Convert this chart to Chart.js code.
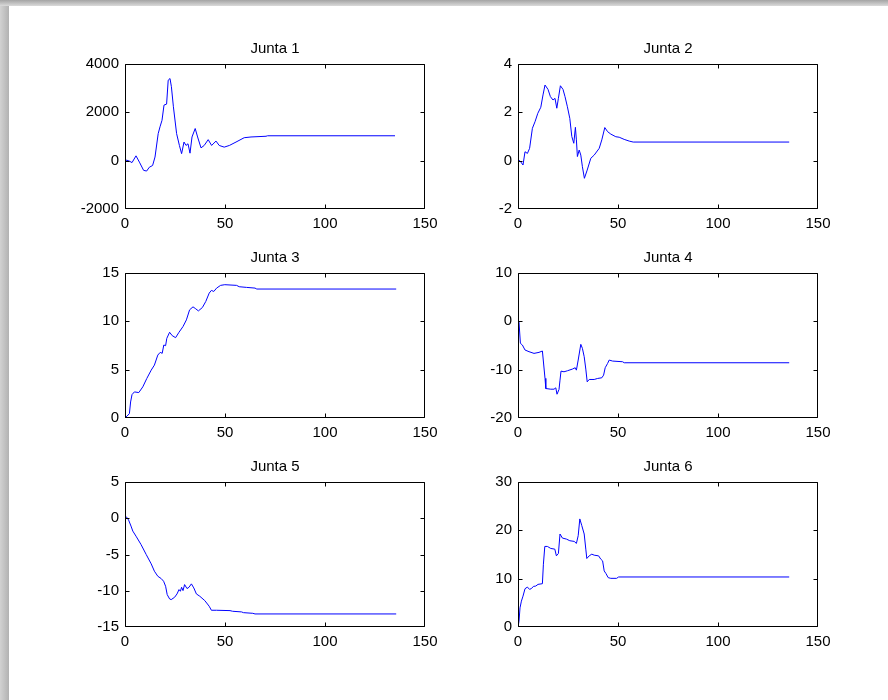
<!DOCTYPE html>
<html>
<head>
<meta charset="utf-8">
<title>Juntas</title>
<script src="https://cdn.jsdelivr.net/npm/chart.js@4/dist/chart.umd.min.js"></script>
<style>
  html, body { margin: 0; padding: 0; background: #fff; }
  body { width: 888px; height: 700px; position: relative; overflow: hidden; }
  .shade-top  { position: absolute; left: 0; top: 0; width: 888px; height: 6px;
                background: linear-gradient(to bottom, #a4a4a4, #dadada); }
  .shade-left { position: absolute; left: 0; top: 0; width: 9px; height: 700px;
                background: linear-gradient(to right, #d2d2d2, #b2b2b2); }
  .plot { position: absolute; width: 380px; height: 205px; }
</style>
</head>
<body>
<div class="shade-left"></div>
<div class="shade-top"></div>

<div class="plot" style="left:65px; top:34px"><canvas id="j1"></canvas></div>
<div class="plot" style="left:458px; top:34px"><canvas id="j2"></canvas></div>
<div class="plot" style="left:65px; top:243px"><canvas id="j3"></canvas></div>
<div class="plot" style="left:458px; top:243px"><canvas id="j4"></canvas></div>
<div class="plot" style="left:65px; top:452px"><canvas id="j5"></canvas></div>
<div class="plot" style="left:458px; top:452px"><canvas id="j6"></canvas></div>

<script>
/* ---- dados ---- */
const xTicks = [0, 50, 100, 150];

const j1Ticks = [-2000, 0, 2000, 4000];
const j1X = [0, 1.8, 3.5, 5.5, 7.2, 9.3, 10.8, 12.2, 13.8, 15, 16.6, 17.5, 18.5, 19.5, 20.8, 21.6, 22.5, 23.2, 24.2, 25.8, 27.2, 28.3, 29.5, 30.5, 31.5, 32.5, 33.5, 35.1, 36.3, 38, 39.6, 41.6, 43.3, 45.5, 47.1, 49.6, 52.2, 55.5, 59.6, 63, 70.5, 71.3, 135];
const j1Y = [30, 0, -80, 200, -60, -400, -430, -270, -200, 150, 1120, 1400, 1670, 2300, 2340, 3330, 3400, 3060, 2230, 1120, 630, 290, 770, 630, 700, 310, 980, 1330, 980, 530, 630, 870, 630, 810, 630, 560, 630, 770, 950, 980, 1010, 1030, 1030];

const j2Ticks = [-2, 0, 2, 4];
const j2X = [0, 1.3, 2.5, 3.5, 4.7, 5.8, 7.2, 8.5, 9.9, 11.4, 12.5, 13.5, 15, 16.2, 17.5, 18.5, 19.4, 20.2, 21.2, 22.5, 23.5, 24.7, 25.9, 26.9, 27.9, 28.7, 29.2, 29.7, 30.6, 31.4, 32.2, 33.2, 34.6, 36.4, 38.1, 40.6, 41.9, 43.4, 44.8, 46.4, 48.9, 50.6, 53.1, 55.6, 57.6, 135.6];
const j2Y = [0.05, -0.04, -0.18, 0.37, 0.3, 0.51, 1.34, 1.61, 1.96, 2.21, 2.72, 3.13, 2.95, 2.65, 2.51, 2.58, 2.17, 2.58, 3.1, 2.95, 2.65, 2.23, 1.75, 1.0, 0.72, 1.38, 0.86, 0.17, 0.44, 0.23, -0.25, -0.73, -0.39, 0.1, 0.23, 0.51, 0.86, 1.37, 1.2, 1.1, 0.99, 0.97, 0.88, 0.81, 0.77, 0.77];

const j3Ticks = [0, 5, 10, 15];
const j3X = [0, 1, 2.2, 2.8, 3.5, 4.7, 6.9, 8.9, 10.9, 13.1, 14.7, 16.4, 17.6, 18.6, 19.4, 20.3, 20.9, 22.3, 23.6, 25.3, 27, 29, 30.7, 32.3, 34, 35.4, 36.7, 38.7, 40.4, 42.1, 43.2, 44.4, 45.8, 47.8, 49.9, 55.8, 57.1, 60.8, 65, 65.9, 135.6];
const j3Y = [0, 0.2, 0.45, 1.66, 2.42, 2.7, 2.63, 3.22, 4.09, 4.95, 5.47, 6.51, 6.79, 6.69, 7.55, 7.48, 8.24, 8.87, 8.52, 8.31, 8.87, 9.46, 10.15, 11.19, 11.5, 11.29, 11.08, 11.43, 12.06, 12.92, 13.2, 13.09, 13.44, 13.72, 13.79, 13.72, 13.58, 13.51, 13.44, 13.34, 13.34];

const j4Ticks = [-20, -10, 0, 10];
const j4X = [0, 0.5, 1.2, 2.2, 3.5, 5.5, 8, 10.5, 12.2, 13.5, 13.9, 16.4, 18, 18.9, 19.5, 20.5, 21, 21.5, 23, 24.7, 27.2, 28.6, 29.2, 30.1, 31.4, 32.2, 33.1, 33.9, 34.6, 35.6, 38.1, 39.8, 41.9, 42.8, 43.6, 44.8, 45.6, 47.3, 52.3, 53.1, 135.6];
const j4Y = [0.1, -0.2, -4.55, -4.9, -5.93, -6.28, -6.63, -6.42, -6.14, -11.8, -13.9, -14.04, -14.04, -13.76, -15.08, -14.1, -12.17, -10.3, -10.44, -10.23, -9.88, -9.6, -10.1, -8.0, -4.76, -5.59, -7.32, -9.88, -12.52, -12.03, -12.03, -11.82, -11.68, -11.13, -9.6, -8.71, -8.01, -8.22, -8.36, -8.57, -8.57];

const j5Ticks = [-15, -10, -5, 0, 5];
const j5X = [0, 0.8, 1.8, 3, 3.9, 5.5, 8, 10.6, 13.1, 14.7, 16.4, 18.1, 19.3, 20.3, 21.1, 22.3, 23.1, 24.8, 26, 27, 27.7, 28.3, 29, 29.8, 31, 32, 33.2, 34.4, 35.7, 37.4, 39.9, 42.1, 43.2, 45.8, 52.5, 53.8, 58.3, 59.2, 63.9, 65, 135.6];
const j5Y = [0.3, 0.16, -0.25, -1.08, -1.77, -2.47, -3.62, -5.0, -6.29, -7.3, -8.0, -8.32, -8.69, -9.38, -10.53, -11.13, -11.22, -10.9, -10.44, -9.84, -10.07, -9.52, -9.98, -9.15, -9.7, -9.52, -9.05, -9.61, -10.44, -10.76, -11.36, -12.14, -12.69, -12.69, -12.74, -12.83, -12.92, -13.02, -13.11, -13.2, -13.2];

const j6Ticks = [0, 10, 20, 30];
const j6X = [0, 0.5, 1, 1.7, 2.5, 3.5, 4.7, 5.8, 6.8, 7.7, 8.9, 10, 12.2, 12.7, 13.4, 14.7, 16.4, 18.4, 19.2, 20.2, 21, 22.2, 24.2, 25.9, 28.1, 29.2, 30.1, 30.9, 31.9, 33.1, 33.9, 34.4, 35.6, 36.9, 38.1, 40.3, 41.4, 42.3, 43.1, 44, 45.1, 46.4, 49.3, 50.3, 135.6];
const j6Y = [0, 1.18, 3.96, 5.35, 6.39, 7.92, 8.26, 7.78, 7.99, 8.4, 8.47, 8.82, 8.96, 12.99, 16.67, 16.67, 16.25, 16.11, 14.72, 15.21, 19.24, 18.4, 18.19, 17.85, 17.71, 17.29, 18.89, 22.36, 20.97, 19.24, 16.11, 14.17, 14.72, 15.07, 14.86, 14.72, 14.03, 13.68, 11.6, 11.04, 10.21, 10.07, 10.07, 10.35, 10.35];

/* ---- caixa e marcas internas estilo MATLAB ---- */
const matlabBox = {
  id: 'matlabBox',
  afterDatasetsDraw(chart) {
    const { ctx, chartArea: a, scales } = chart;
    const L = a.left + 0.5, R = a.right - 0.5, T = a.top + 0.5, B = a.bottom - 0.5;
    const tick = 4;
    const clamp = (v, lo, hi) => Math.min(Math.max(v, lo), hi);
    ctx.save();
    ctx.strokeStyle = '#000';
    ctx.lineWidth = 1;
    ctx.beginPath();
    ctx.rect(L, T, R - L, B - T);
    scales.x.ticks.forEach(t => {
      const px = clamp(Math.round(scales.x.getPixelForValue(t.value)) + 0.5, L, R);
      ctx.moveTo(px, B); ctx.lineTo(px, B - tick);
      ctx.moveTo(px, T); ctx.lineTo(px, T + tick);
    });
    scales.y.ticks.forEach(t => {
      const py = clamp(Math.round(scales.y.getPixelForValue(t.value)) + 0.5, T, B);
      ctx.moveTo(L, py); ctx.lineTo(L + tick, py);
      ctx.moveTo(R, py); ctx.lineTo(R - tick, py);
    });
    ctx.stroke();
    ctx.restore();
  }
};

const tickFont = { family: "'Liberation Sans', Arial, sans-serif", size: 15 };

function makeJunta(id, title, xs, ys, yTicks) {
  new Chart(document.getElementById(id), {
    type: 'line',
    data: {
      datasets: [{
        data: xs.map((x, i) => ({ x, y: ys[i] })),
        borderColor: '#0000ff',
        borderWidth: 1,
        pointRadius: 0,
        tension: 0,
        fill: false,
      }],
    },
    options: {
      responsive: true,
      maintainAspectRatio: false,
      animation: false,
      layout: { padding: { left: 0, right: 20, top: 0, bottom: 0 } },
      plugins: {
        legend: { display: false },
        tooltip: { enabled: false },
        title: {
          display: true,
          text: title,
          fullSize: false,
          color: '#000',
          font: { family: tickFont.family, size: 15, weight: 'normal', lineHeight: 1 },
          padding: { top: 7, bottom: 8 },
        },
      },
      scales: {
        x: {
          type: 'linear',
          min: xTicks[0],
          max: xTicks[xTicks.length - 1],
          afterBuildTicks: s => { s.ticks = xTicks.map(v => ({ value: v })); },
          afterFit: s => { s.height = 30; },
          grid: { display: false, drawTicks: false },
          border: { display: false },
          ticks: { color: '#000', font: tickFont, padding: 6, maxRotation: 0, autoSkip: false, callback: v => String(v) },
        },
        y: {
          type: 'linear',
          min: yTicks[0],
          max: yTicks[yTicks.length - 1],
          afterBuildTicks: s => { s.ticks = yTicks.map(v => ({ value: v })); },
          afterFit: s => { s.width = 60; },
          grid: { display: false, drawTicks: false },
          border: { display: false },
          ticks: { color: '#000', font: tickFont, padding: 6, autoSkip: false, callback: v => String(v) },
        },
      },
    },
    plugins: [matlabBox],
  });
}

document.addEventListener('DOMContentLoaded', () => {
  makeJunta('j1', 'Junta 1', j1X, j1Y, j1Ticks);
  makeJunta('j2', 'Junta 2', j2X, j2Y, j2Ticks);
  makeJunta('j3', 'Junta 3', j3X, j3Y, j3Ticks);
  makeJunta('j4', 'Junta 4', j4X, j4Y, j4Ticks);
  makeJunta('j5', 'Junta 5', j5X, j5Y, j5Ticks);
  makeJunta('j6', 'Junta 6', j6X, j6Y, j6Ticks);
});
</script>
</body>
</html>
